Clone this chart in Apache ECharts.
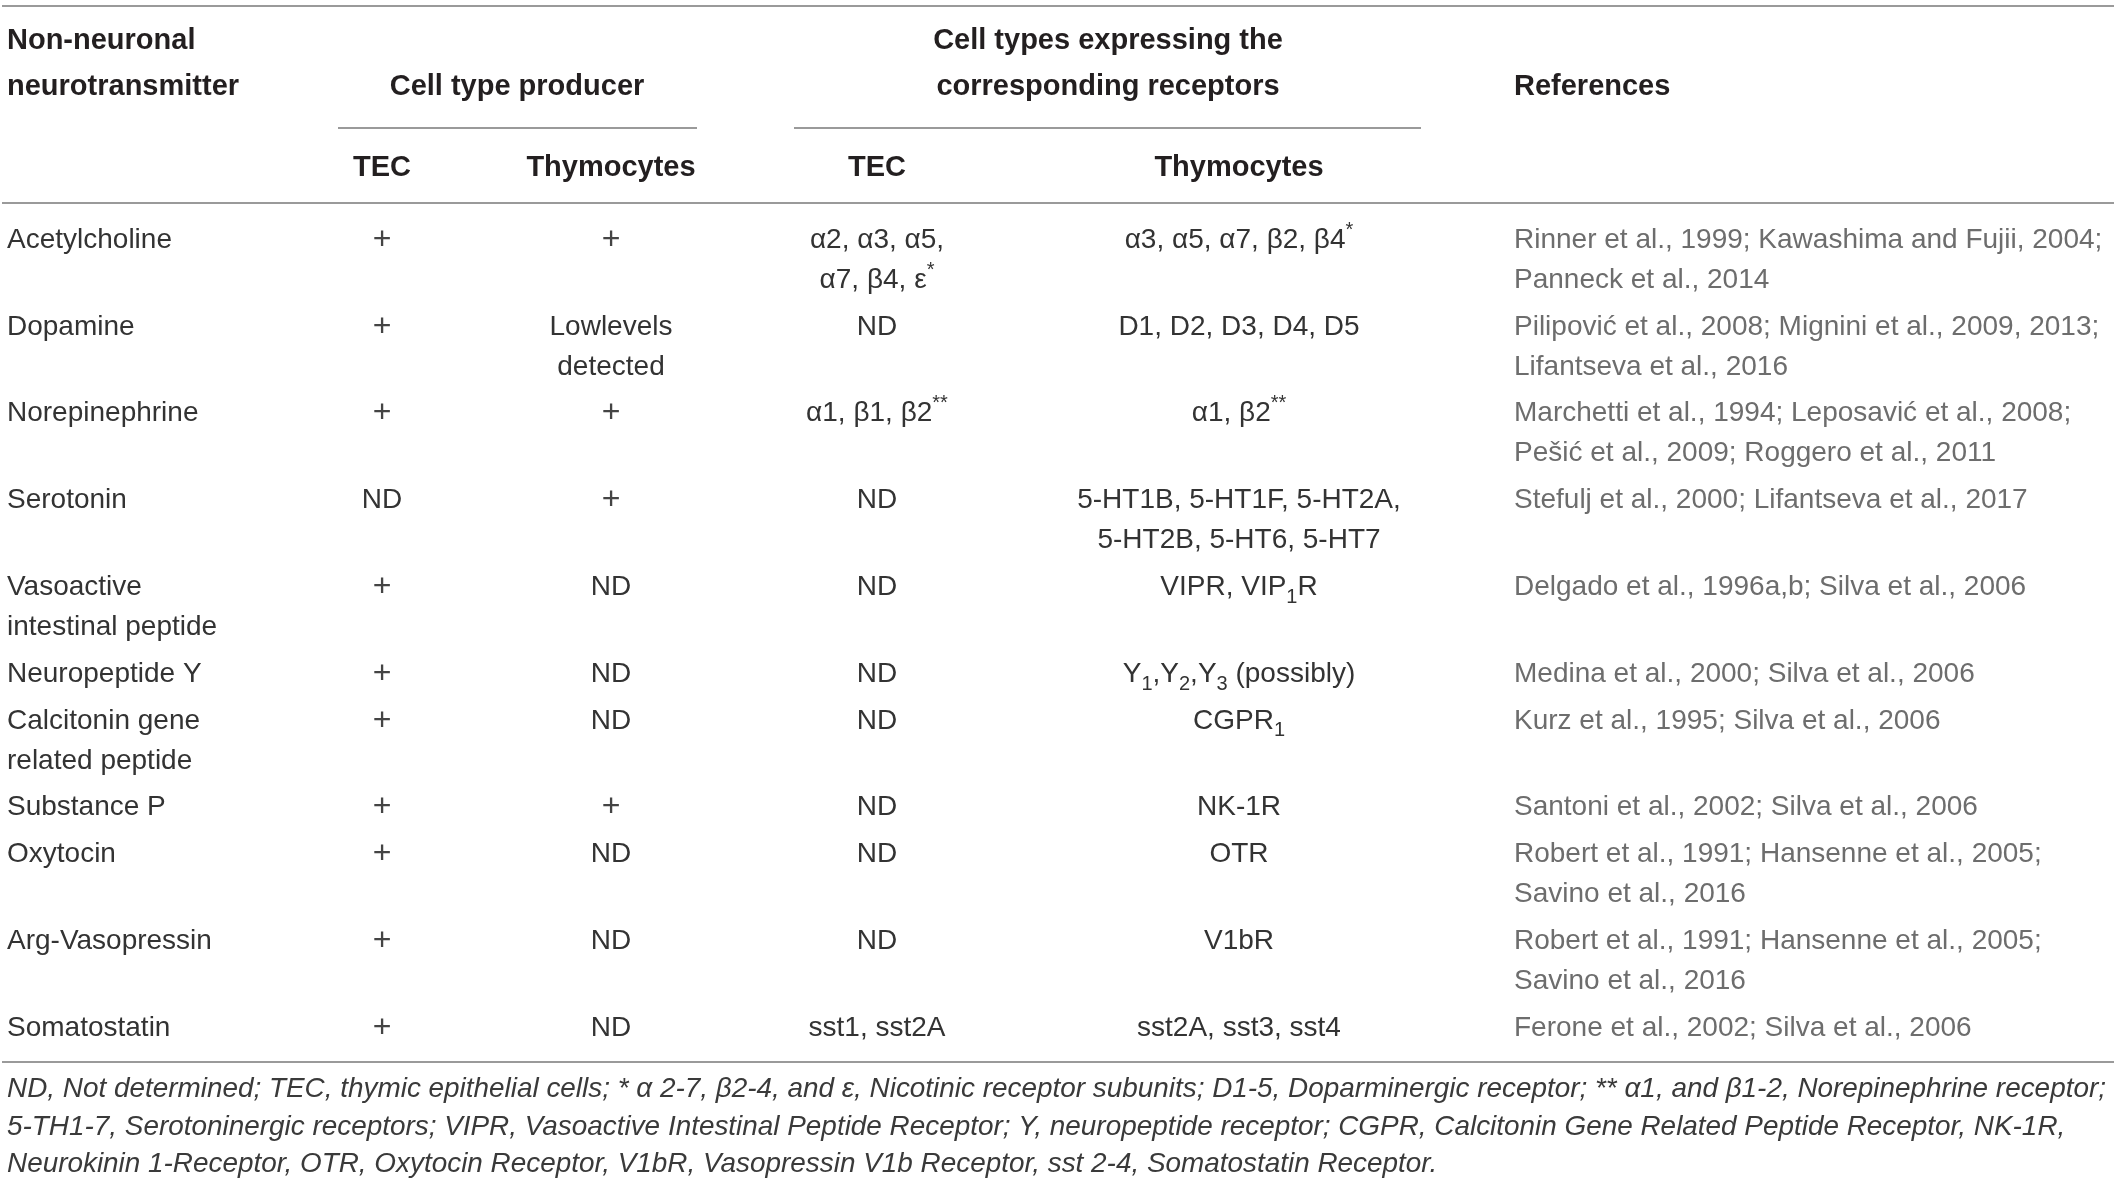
<!DOCTYPE html>
<html><head><meta charset="utf-8">
<script src="https://cdn.jsdelivr.net/npm/echarts@6/dist/echarts.min.js"></script>
<style>html,body{margin:0;padding:0;background:#fff}#c{width:2118px;height:1187px}</style>
</head><body><div id="c"></div>
<script>
// ---------------- DATA ----------------
const headFirst = 'Non-neuronal\nneurotransmitter';
const headGroups = ['Cell type producer', 'Cell types expressing the\ncorresponding receptors'];
const headRefs = 'References';
const subHeads = ['TEC', 'Thymocytes', 'TEC', 'Thymocytes'];

const transmitters = ['Acetylcholine', 'Dopamine', 'Norepinephrine', 'Serotonin',
  'Vasoactive\nintestinal peptide', 'Neuropeptide Y', 'Calcitonin gene\nrelated peptide',
  'Substance P', 'Oxytocin', 'Arg-Vasopressin', 'Somatostatin'];
const tecProducer = ['+', '+', '+', 'ND', '+', '+', '+', '+', '+', '+', '+'];
const thymocyteProducer = ['+', 'Lowlevels\ndetected', '+', '+', 'ND', 'ND', 'ND', '+', 'ND', 'ND', 'ND'];
const tecReceptors = ['α2, α3, α5,\nα7, β4, ε{sup|*}', 'ND', 'α1, β1, β2{sup|**}', 'ND', 'ND', 'ND', 'ND',
  'ND', 'ND', 'ND', 'sst1, sst2A'];
const thymocyteReceptors = ['α3, α5, α7, β2, β4{sup|*}', 'D1, D2, D3, D4, D5', 'α1, β2{sup|**}',
  '5-HT1B, 5-HT1F, 5-HT2A,\n5-HT2B, 5-HT6, 5-HT7', 'VIPR, VIP{sub|1}R',
  'Y{sub|1},Y{sub|2},Y{sub|3} (possibly)', 'CGPR{sub|1}', 'NK-1R', 'OTR', 'V1bR', 'sst2A, sst3, sst4'];
const references = [
  'Rinner et al., 1999; Kawashima and Fujii, 2004;\nPanneck et al., 2014',
  'Pilipović et al., 2008; Mignini et al., 2009, 2013;\nLifantseva et al., 2016',
  'Marchetti et al., 1994; Leposavić et al., 2008;\nPešić et al., 2009; Roggero et al., 2011',
  'Stefulj et al., 2000; Lifantseva et al., 2017',
  'Delgado et al., 1996a,b; Silva et al., 2006',
  'Medina et al., 2000; Silva et al., 2006',
  'Kurz et al., 1995; Silva et al., 2006',
  'Santoni et al., 2002; Silva et al., 2006',
  'Robert et al., 1991; Hansenne et al., 2005;\nSavino et al., 2016',
  'Robert et al., 1991; Hansenne et al., 2005;\nSavino et al., 2016',
  'Ferone et al., 2002; Silva et al., 2006'];
const footnote = 'ND, Not determined; TEC, thymic epithelial cells; * α 2-7, β2-4, and ε, Nicotinic receptor subunits; D1-5, Doparminergic receptor; ** α1, and β1-2, Norepinephrine receptor;\n' +
  '5-TH1-7, Serotoninergic receptors; VIPR, Vasoactive Intestinal Peptide Receptor; Y, neuropeptide receptor; CGPR, Calcitonin Gene Related Peptide Receptor, NK-1R,\n' +
  'Neurokinin 1-Receptor, OTR, Oxytocin Receptor, V1bR, Vasopressin V1b Receptor, sst 2-4, Somatostatin Receptor.';

// ---------------- LAYOUT / STYLE ----------------
const W = 2118, H = 1187;
const FONT = '"Liberation Sans", Arial, Helvetica, sans-serif';
const colX = [7, 382, 611, 877, 1239, 1514];
const colAlign = ['left', 'center', 'center', 'center', 'center', 'left'];
const groupX = [517, 1108];
const headLine1 = 41, headLine2 = 87, subHeadY = 168;
const bodyTop = 240, linePitch = 40, rowGap = 6.8;
const noteTop = 1089;
const STY = {
  head: { size: 29, weight: 'bold', style: 'normal', color: '#231f20', lh: 46 },
  body: { size: 28, weight: 'normal', style: 'normal', color: '#333333', lh: linePitch },
  plus: { size: 32, weight: 'normal', style: 'normal', color: '#444444', lh: linePitch },
  ref:  { size: 28, weight: 'normal', style: 'normal', color: '#6d6d6d', lh: linePitch },
  note: { size: 27.9, weight: 'normal', style: 'italic', color: '#3a3a3a', lh: 37.8 }
};
const rules = [[2, 2114, 6], [338, 697, 128], [794, 1421, 128], [2, 2114, 203], [2, 2114, 1062]];

// ---------------- BUILD CELLS ----------------
const cells = [];
cells.push({ x: colX[0], y: headLine1, text: headFirst, align: 'left', kind: 'head' });
cells.push({ x: groupX[0], y: headLine2, text: headGroups[0], align: 'center', kind: 'head' });
cells.push({ x: groupX[1], y: headLine1, text: headGroups[1], align: 'center', kind: 'head' });
cells.push({ x: colX[5], y: headLine2, text: headRefs, align: 'left', kind: 'head' });
subHeads.forEach((t, i) => cells.push({ x: colX[i + 1], y: subHeadY, text: t, align: 'center', kind: 'head' }));

const columns = [transmitters, tecProducer, thymocyteProducer, tecReceptors, thymocyteReceptors, references];
let lineAcc = 0;
transmitters.forEach((_, r) => {
  const y = bodyTop + lineAcc * linePitch + r * rowGap;
  let maxLines = 1;
  columns.forEach((col, c) => {
    const t = col[r];
    maxLines = Math.max(maxLines, t.split('\n').length);
    const kind = c === 5 ? 'ref' : (t === '+' ? 'plus' : 'body');
    cells.push({ x: colX[c], y: y, text: t, align: colAlign[c], kind: kind });
  });
  lineAcc += maxLines;
});
cells.push({ x: colX[0], y: noteTop, text: footnote, align: 'left', kind: 'note' });

function richFor(s) {
  const small = Math.round(s.size * 0.7);
  const base = { fontFamily: FONT, fontSize: small, fontWeight: s.weight, fontStyle: s.style, fill: s.color };
  return {
    sub: Object.assign({}, base, { verticalAlign: 'bottom', lineHeight: s.lh - 14 }),
    sup: Object.assign({}, base, { verticalAlign: 'top', lineHeight: s.lh - 6 })
  };
}

const chart = echarts.init(document.getElementById('c'), null, { renderer: 'canvas' });
chart.setOption({
  animation: false,
  backgroundColor: '#ffffff',
  grid: { left: 0, right: 0, top: 0, bottom: 0 },
  xAxis: { type: 'value', min: 0, max: W, show: false },
  yAxis: { type: 'value', min: 0, max: H, inverse: true, show: false },
  series: [
    {
      type: 'custom',
      coordinateSystem: 'cartesian2d',
      data: rules.map(r => [r[0], r[2], r[1]]),
      renderItem: (params, api) => {
        const a = api.coord([api.value(0), api.value(1)]);
        const b = api.coord([api.value(2), api.value(1)]);
        return { type: 'line', shape: { x1: a[0], y1: a[1], x2: b[0], y2: b[1] },
          style: { stroke: '#9a9a9a', lineWidth: 2 } };
      }
    },
    {
      type: 'custom',
      coordinateSystem: 'cartesian2d',
      data: cells.map(c => [c.x, c.y]),
      renderItem: (params, api) => {
        const c = cells[params.dataIndex];
        const s = STY[c.kind];
        const p = api.coord([api.value(0), api.value(1)]);
        return {
          type: 'text', x: p[0], y: p[1] - s.lh / 2,
          style: {
            text: c.text, fill: s.color, fontFamily: FONT, fontSize: s.size,
            fontWeight: s.weight, fontStyle: s.style, lineHeight: s.lh,
            align: c.align, verticalAlign: 'top', rich: richFor(s)
          }
        };
      }
    }
  ]
});
</script>
</body></html>
